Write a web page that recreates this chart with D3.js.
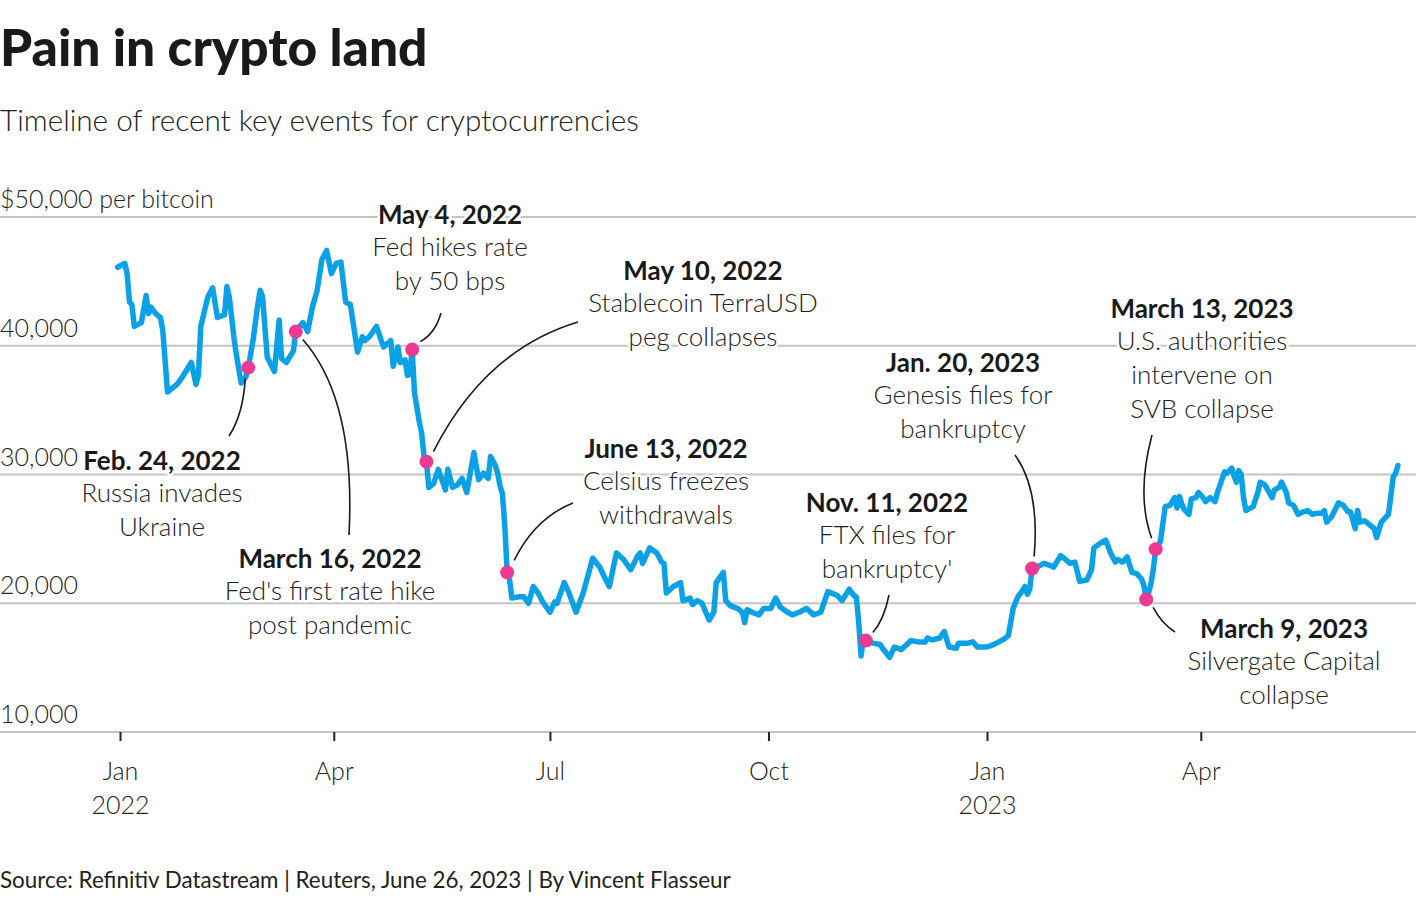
<!DOCTYPE html>
<html><head><meta charset="utf-8">
<script src="https://cdn.jsdelivr.net/npm/d3@7"></script>
<style>
body{margin:0;background:#fff}
svg{display:block}
text{font-family:Lato,"Noto Sans",sans-serif}
</style></head>
<body><svg id="c" width="1420" height="900"></svg>
<script>
// ---------- DATA ----------
const btcPrice = [
["2021-12-31",46100],["2022-01-03",46400],["2022-01-04",45600],["2022-01-05",43400],["2022-01-06",43200],["2022-01-07",41500],
["2022-01-10",41800],["2022-01-12",43900],["2022-01-13",42500],["2022-01-14",43000],["2022-01-16",42500],["2022-01-18",42200],
["2022-01-19",41200],["2022-01-21",36400],["2022-01-23",36700],["2022-01-25",37000],["2022-01-27",37500],["2022-01-31",38700],
["2022-02-02",37000],["2022-02-03",37700],["2022-02-04",41500],["2022-02-07",43800],["2022-02-09",44500],["2022-02-11",42200],
["2022-02-14",42400],["2022-02-15",44600],["2022-02-16",43800],["2022-02-18",40600],["2022-02-19",39300],["2022-02-21",37100],
["2022-02-23",37600],["2022-02-24",38300],["2022-02-26",40400],["2022-02-28",43200],["2022-03-01",44300],["2022-03-02",43800],
["2022-03-04",39100],["2022-03-07",38000],["2022-03-09",42000],["2022-03-10",39000],["2022-03-12",38700],["2022-03-14",39300],
["2022-03-15",39600],["2022-03-16",41100],["2022-03-19",41800],["2022-03-21",41100],["2022-03-23",43000],["2022-03-25",44300],
["2022-03-27",46700],["2022-03-29",47400],["2022-03-31",45600],["2022-04-02",46400],["2022-04-04",46500],["2022-04-06",43400],
["2022-04-08",43200],["2022-04-11",39500],["2022-04-13",40700],["2022-04-14",40400],["2022-04-16",40700],["2022-04-19",41500],
["2022-04-21",40400],["2022-04-22",39900],["2022-04-25",40400],["2022-04-26",38400],["2022-04-28",39900],["2022-04-29",38700],
["2022-05-01",38900],["2022-05-02",37700],["2022-05-03",37800],["2022-05-04",39700],["2022-05-05",36300],["2022-05-06",35200],
["2022-05-07",34100],["2022-05-08",33200],["2022-05-09",31400],["2022-05-10",31000],["2022-05-11",29000],["2022-05-13",29300],
["2022-05-15",30400],["2022-05-18",28800],["2022-05-19",30400],["2022-05-21",29000],["2022-05-23",29200],["2022-05-25",29700],
["2022-05-27",28600],["2022-05-30",31700],["2022-06-01",29600],["2022-06-03",30100],["2022-06-05",29700],["2022-06-06",31400],
["2022-06-08",30700],["2022-06-09",30100],["2022-06-10",29100],["2022-06-11",28500],["2022-06-12",26000],["2022-06-13",22400],
["2022-06-14",21800],["2022-06-15",20400],["2022-06-18",20500],["2022-06-20",20500],["2022-06-22",20000],["2022-06-24",21300],
["2022-06-26",20800],["2022-06-28",20100],["2022-07-01",19300],["2022-07-03",20100],["2022-07-04",20000],["2022-07-07",21600],
["2022-07-09",20800],["2022-07-12",19300],["2022-07-15",20800],["2022-07-19",23500],["2022-07-22",22800],["2022-07-24",22000],
["2022-07-26",21300],["2022-07-29",23900],["2022-08-01",23400],["2022-08-04",22600],["2022-08-07",23700],["2022-08-08",23900],
["2022-08-09",23100],["2022-08-12",24300],["2022-08-15",23900],["2022-08-17",23200],["2022-08-18",23100],["2022-08-19",20800],
["2022-08-22",21300],["2022-08-25",21600],["2022-08-26",20200],["2022-08-29",20400],["2022-08-30",19900],["2022-09-01",20200],
["2022-09-03",20000],["2022-09-06",18700],["2022-09-08",19300],["2022-09-09",21600],["2022-09-12",22400],["2022-09-13",20200],
["2022-09-15",19800],["2022-09-18",19600],["2022-09-20",19300],["2022-09-21",18500],["2022-09-22",19500],["2022-09-24",19300],
["2022-09-27",19100],["2022-09-29",19600],["2022-10-02",19600],["2022-10-04",20400],["2022-10-06",19700],["2022-10-09",19300],
["2022-10-11",19100],["2022-10-14",19300],["2022-10-17",19600],["2022-10-20",19100],["2022-10-23",19300],["2022-10-26",20900],
["2022-10-30",20600],["2022-11-01",20200],["2022-11-04",21100],["2022-11-06",20600],["2022-11-07",20500],["2022-11-08",18500],
["2022-11-09",15900],["2022-11-10",17400],["2022-11-11",17100],["2022-11-14",16900],["2022-11-17",16800],["2022-11-18",16500],
["2022-11-21",15800],["2022-11-23",16600],["2022-11-26",16400],["2022-11-30",17100],["2022-12-03",17000],["2022-12-06",17000],
["2022-12-07",17300],["2022-12-09",17150],["2022-12-12",17300],["2022-12-14",17800],["2022-12-16",16600],["2022-12-19",16500],
["2022-12-20",16900],["2022-12-24",16900],["2022-12-26",17000],["2022-12-28",16600],["2023-01-01",16600],["2023-01-04",16800],
["2023-01-08",17200],["2023-01-10",17500],["2023-01-12",19600],["2023-01-14",20500],["2023-01-16",21000],["2023-01-17",21300],
["2023-01-18",20700],["2023-01-19",21100],["2023-01-20",22700],["2023-01-22",22800],["2023-01-25",23100],["2023-01-28",22900],
["2023-01-29",22800],["2023-02-01",23700],["2023-02-03",23400],["2023-02-05",23100],["2023-02-07",23200],["2023-02-09",21700],
["2023-02-12",21800],["2023-02-14",22600],["2023-02-15",24300],["2023-02-18",24700],["2023-02-20",24900],["2023-02-22",23900],
["2023-02-24",23200],["2023-02-25",23400],["2023-02-27",23200],["2023-03-01",23600],["2023-03-03",22400],["2023-03-05",22300],
["2023-03-07",21900],["2023-03-08",21400],["2023-03-09",20300],["2023-03-10",20800],["2023-03-11",21500],["2023-03-12",22600],
["2023-03-13",24200],["2023-03-15",24800],["2023-03-17",27500],["2023-03-19",27600],["2023-03-20",27900],["2023-03-21",28200],
["2023-03-22",27400],["2023-03-23",28300],["2023-03-24",27700],["2023-03-25",27300],["2023-03-27",26900],["2023-03-28",28100],
["2023-03-30",28200],["2023-03-31",28600],["2023-04-02",28200],["2023-04-03",27900],["2023-04-05",28200],["2023-04-07",27900],
["2023-04-08",28600],["2023-04-11",30200],["2023-04-12",30100],["2023-04-14",30500],["2023-04-15",29900],["2023-04-16",29400],
["2023-04-17",30300],["2023-04-18",30000],["2023-04-19",28200],["2023-04-20",27200],["2023-04-23",27500],["2023-04-25",28600],
["2023-04-26",29400],["2023-04-28",29200],["2023-05-01",28200],["2023-05-02",28800],["2023-05-04",29000],["2023-05-05",29400],
["2023-05-07",28600],["2023-05-08",27800],["2023-05-10",27600],["2023-05-12",26900],["2023-05-14",27100],["2023-05-16",27200],
["2023-05-18",26900],["2023-05-20",27000],["2023-05-22",27000],["2023-05-23",27200],["2023-05-24",26300],["2023-05-26",26700],
["2023-05-29",27800],["2023-05-31",27600],["2023-06-02",27100],["2023-06-03",27100],["2023-06-05",25800],["2023-06-06",27200],
["2023-06-07",26300],["2023-06-09",26400],["2023-06-11",26100],["2023-06-13",25800],["2023-06-14",25100],["2023-06-16",26300],
["2023-06-19",26900],["2023-06-20",28300],["2023-06-21",29800],["2023-06-22",30100],["2023-06-23",30700]
];

const yTicks = [10000, 20000, 30000, 40000, 50000];
const yTickLabels = ["10,000", "20,000", "30,000", "40,000", "$50,000 per bitcoin"];
const xTicks = ["2022-01-01","2022-04-01","2022-07-01","2022-10-01","2023-01-01","2023-04-01"];
const xTickLabels = [["Jan","2022"],["Apr"],["Jul"],["Oct"],["Jan","2023"],["Apr"]];

const eventDates  = ["2022-02-24","2022-03-16","2022-05-04","2022-05-10","2022-06-13","2022-11-11","2023-01-20","2023-03-09","2023-03-13"];
const eventTitles = ["Feb. 24, 2022","March 16, 2022","May 4, 2022","May 10, 2022","June 13, 2022","Nov. 11, 2022","Jan. 20, 2023","March 9, 2023","March 13, 2023"];
const eventTexts  = [
  ["Russia invades","Ukraine"],
  ["Fed's first rate hike","post pandemic"],
  ["Fed hikes rate","by 50 bps"],
  ["Stablecoin TerraUSD","peg collapses"],
  ["Celsius freezes","withdrawals"],
  ["FTX files for","bankruptcy'"],
  ["Genesis files for","bankruptcy"],
  ["Silvergate Capital","collapse"],
  ["U.S. authorities","intervene on","SVB collapse"]
];
// label layout: [centre x, first baseline], connector: start offset from point, end, control
const eventLabelPos = [[162,470],[330,568],[450,224],[703,280],[666,458],[887,512],[963,372],[1284,638],[1202,318]];
const eventLeader = [
  {s:[-3,11], e:[229,436], c:[243,415]},
  {s:[7,8],   e:[349,535], c:[356,400]},
  {s:[8,-8],  e:[441,313], c:[435,334]},
  {s:[7,-10], e:[578,322], c:[485,350]},
  {s:[7,-12], e:[573,503], c:[535,518]},
  {s:[7,-8],  e:[889,595], c:[884,620]},
  {s:[2,-12], e:[1015,455],c:[1040,490]},
  {s:[7,8],   e:[1175,632],c:[1162,624]},
  {s:[-4,-11],e:[1152,435],c:[1136,495]}
];

// ---------- CHART ----------
const svg = d3.select("#c");
const parse = d3.utcParse("%Y-%m-%d");
const data = btcPrice.map(d => ({date: parse(d[0]), value: d[1]}));

const x = d3.scaleUtc().domain([parse("2022-01-01"), parse("2023-01-01")]).range([120, 987]);
const y = d3.scaleLinear().domain([10000, 50000]).range([732, 217]);
const W = 1416;

const txt = "#222";

// title
svg.append("text").attr("x", 0).attr("y", 66).attr("font-size", 51.5).attr("font-weight", 900)
  .attr("fill", "#1a1a1a").text("Pain in crypto land");
svg.append("text").attr("x", 0).attr("y", 131).attr("font-size", 29.7).attr("font-weight", 300)
  .attr("fill", txt).text("Timeline of recent key events for cryptocurrencies");

// gridlines
const grid = svg.append("g");
grid.selectAll("line").data(yTicks.filter(v => v > 10000)).join("line")
  .attr("x1", 0).attr("x2", W).attr("y1", d => y(d)).attr("y2", d => y(d))
  .attr("stroke", "#c4c4c4").attr("stroke-width", 2);
grid.selectAll("text").data(yTicks).join("text")
  .attr("x", 0).attr("y", d => y(d) - 9)
  .attr("font-size", 25).attr("font-weight", 300).attr("fill", txt)
  .text((d, i) => yTickLabels[i]);

// x axis
const xAxis = svg.append("g").attr("transform", `translate(0,${y(10000)})`)
  .call(d3.axisBottom(x).tickValues(xTicks.map(parse)).tickSize(9).tickFormat(""));
xAxis.select(".domain").attr("d", `M0,0H${W}`).attr("stroke", "#c4c4c4").attr("stroke-width", 2);
xAxis.selectAll(".tick line").attr("stroke", "#222").attr("stroke-width", 2);
xAxis.selectAll(".tick").each(function(d, i) {
  const t = d3.select(this).append("text").attr("fill", txt).attr("font-size", 25).attr("font-weight", 300)
    .attr("text-anchor", "middle").attr("font-family", "Lato");
  xTickLabels[i].forEach((s, j) => t.append("tspan").attr("x", 0).attr("y", 48 + j * 34).text(s));
});

// price line
svg.append("path").datum(data)
  .attr("d", d3.line().x(d => x(d.date)).y(d => y(d.value)))
  .attr("fill", "none").attr("stroke", "#0aa1e6").attr("stroke-width", 5.5)
  .attr("stroke-linejoin", "round").attr("stroke-linecap", "round");

// events
const events = eventDates.map((ds, i) => {
  const p = data.find(d => +d.date === +parse(ds));
  return {date: p.date, value: p.value, title: eventTitles[i], lines: eventTexts[i], pos: eventLabelPos[i], lead: eventLeader[i]};
});

const ann = svg.append("g");
ann.selectAll("path").data(events).join("path")
  .attr("d", d => {
    const px = x(d.date), py = y(d.value);
    return `M${px + d.lead.s[0]},${py + d.lead.s[1]}Q${d.lead.c[0]},${d.lead.c[1]} ${d.lead.e[0]},${d.lead.e[1]}`;
  })
  .attr("fill", "none").attr("stroke", "#1a1a1a").attr("stroke-width", 1.6);

svg.append("g").selectAll("circle").data(events).join("circle")
  .attr("cx", d => x(d.date)).attr("cy", d => y(d.value)).attr("r", 7)
  .attr("fill", "#ec3a93");

const labels = svg.append("g").selectAll("text").data(events).join("text")
  .attr("text-anchor", "middle").attr("font-size", 26).attr("fill", txt)
  .attr("stroke", "#fff").attr("stroke-width", 5).attr("paint-order", "stroke").attr("stroke-linejoin", "round");
labels.each(function(d) {
  const t = d3.select(this);
  t.append("tspan").attr("x", d.pos[0]).attr("y", d.pos[1]).attr("font-weight", 700).attr("fill", "#1a1a1a").text(d.title);
  d.lines.forEach((s, j) => t.append("tspan").attr("x", d.pos[0]).attr("y", d.pos[1] + 32 + j * 34)
    .attr("font-weight", 300).text(s));
});

// source
svg.append("text").attr("x", 0).attr("y", 888).attr("font-size", 22.4).attr("fill", txt)
  .text("Source: Refinitiv Datastream | Reuters, June 26, 2023 | By Vincent Flasseur");
</script></body></html>
